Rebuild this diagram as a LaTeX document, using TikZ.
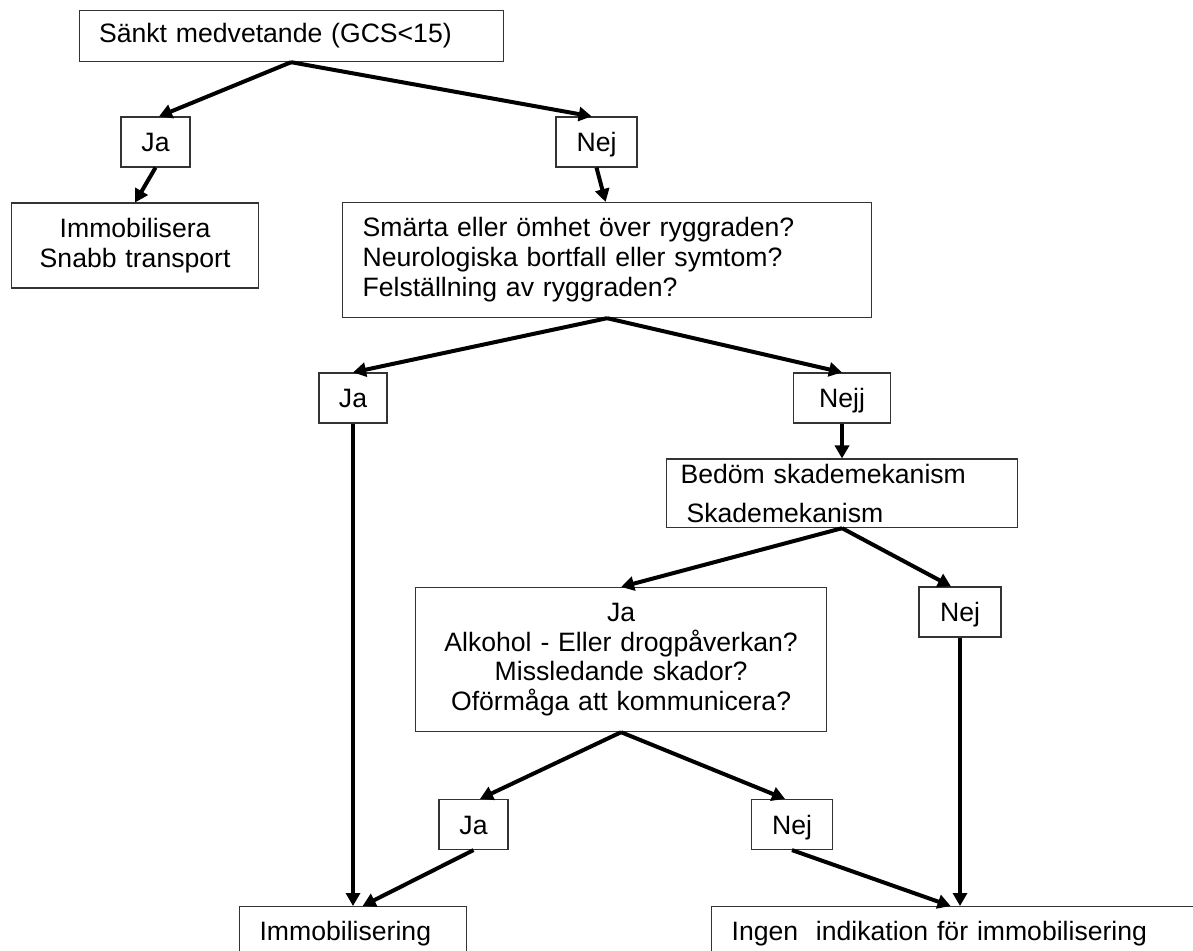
\documentclass[tikz,border=0pt]{standalone}
\usepackage{fontspec}
\setmainfont{Liberation Sans}
\usetikzlibrary{arrows.meta}

\begin{document}
\begin{tikzpicture}[
x=0.5pt, y=-0.5pt,
every node/.style={font=\fontsize{13.3}{15}\selectfont},
textbox/.style={
  draw=black!80,
  line width=0.6pt,
  inner xsep=10pt,
  inner ysep=0pt,
  anchor=north west
  },
answer/.style={
  draw=black!80,
  line width=0.6pt,
  minimum height=25pt,
  text height=9.5pt,
  text depth=0pt,
  inner sep=0pt
  },
flow/.style={line width=2pt, -{Triangle[length=6.5pt,width=7pt]}}
]
\useasboundingbox (0,0) rectangle (1193,951);
\clip (0,0) rectangle (1193,951);

\node[textbox, text width=192pt, minimum height=25.5pt, align=left] (gcs) at (78.5,10)
  {Sänkt medvetande (GCS<15)};
\node[textbox, text width=103.5pt, minimum height=42.5pt, align=center] (immob) at (11,202.5)
  {Immobilisera\\Snabb transport};
\node[textbox, text width=244.5pt, minimum height=57.5pt, align=left] (smarta) at (342,202)
  {Smärta eller ömhet över ryggraden?\\Neurologiska bortfall eller symtom?\\Felställning av ryggraden?};
\node[textbox, inner xsep=7pt, text width=161.5pt, minimum height=34.25pt, align=left,
  font=\fontsize{13.3}{19.5}\selectfont] (bedom) at (666,458.5)
  {Bedöm skademekanism\\\hspace*{3pt}Skademekanism};
\node[textbox, text width=185.5pt, minimum height=72pt, align=center,
  font=\fontsize{13.3}{14.8}\selectfont] (alkohol) at (415,587)
  {Ja\\Alkohol - Eller drogpåverkan?\\Missledande skador?\\Oförmåga att kommunicera?};
\node[textbox, text width=93.5pt, minimum height=27pt, align=left] (immobil) at (239,906)
  {Immobilisering};
\node[textbox, text width=224pt, minimum height=27pt, align=left] (ingen) at (711,906)
  {Ingen\ \ indikation för immobilisering};

% ja / nej answers
\foreach \Name/\X/\Y/\W/\Text in {
  ja1/155.5/142/34.5/Ja, nej1/596.5/142/40.5/Nej,
  ja2/353/398/34/Ja, nej2/842/398/48.25/Nejj,
  nej3/960/612/41/Nej,
  ja4/473.5/824.5/34.5/Ja, nej4/792/824.5/40.5/Nej}
  \node[answer, minimum width=\W pt] (\Name) at (\X,\Y) {\Text};

\path[flow]
(gcs.south) edge ([xshift=1.75pt]ja1.north)
(gcs.south) edge ([xshift=-2.4pt]nej1.north)
(ja1.south) edge (immob.north)
(nej1.south) edge ([xshift=-0.75pt]smarta.north)
(smarta.south) edge (ja2.north)
(smarta.south) edge (nej2.north)
(nej2.south) edge (nej2.south |- bedom.north)
(ja2.south) edge (ja2.south |- immobil.north)
(bedom.south) edge (alkohol.north)
(bedom.south) edge ([xshift=-4.5pt]nej3.north)
(nej3.south) edge (nej3.south |- ingen.north)
(alkohol.south) edge ([xshift=3.25pt]ja4.north)
(alkohol.south) edge ([xshift=-3.5pt]nej4.north)
(ja4.south) edge ([xshift=4.75pt]immobil.north)
(nej4.south) edge ([xshift=-2.5pt]ingen.north);
\end{tikzpicture}
\end{document}
